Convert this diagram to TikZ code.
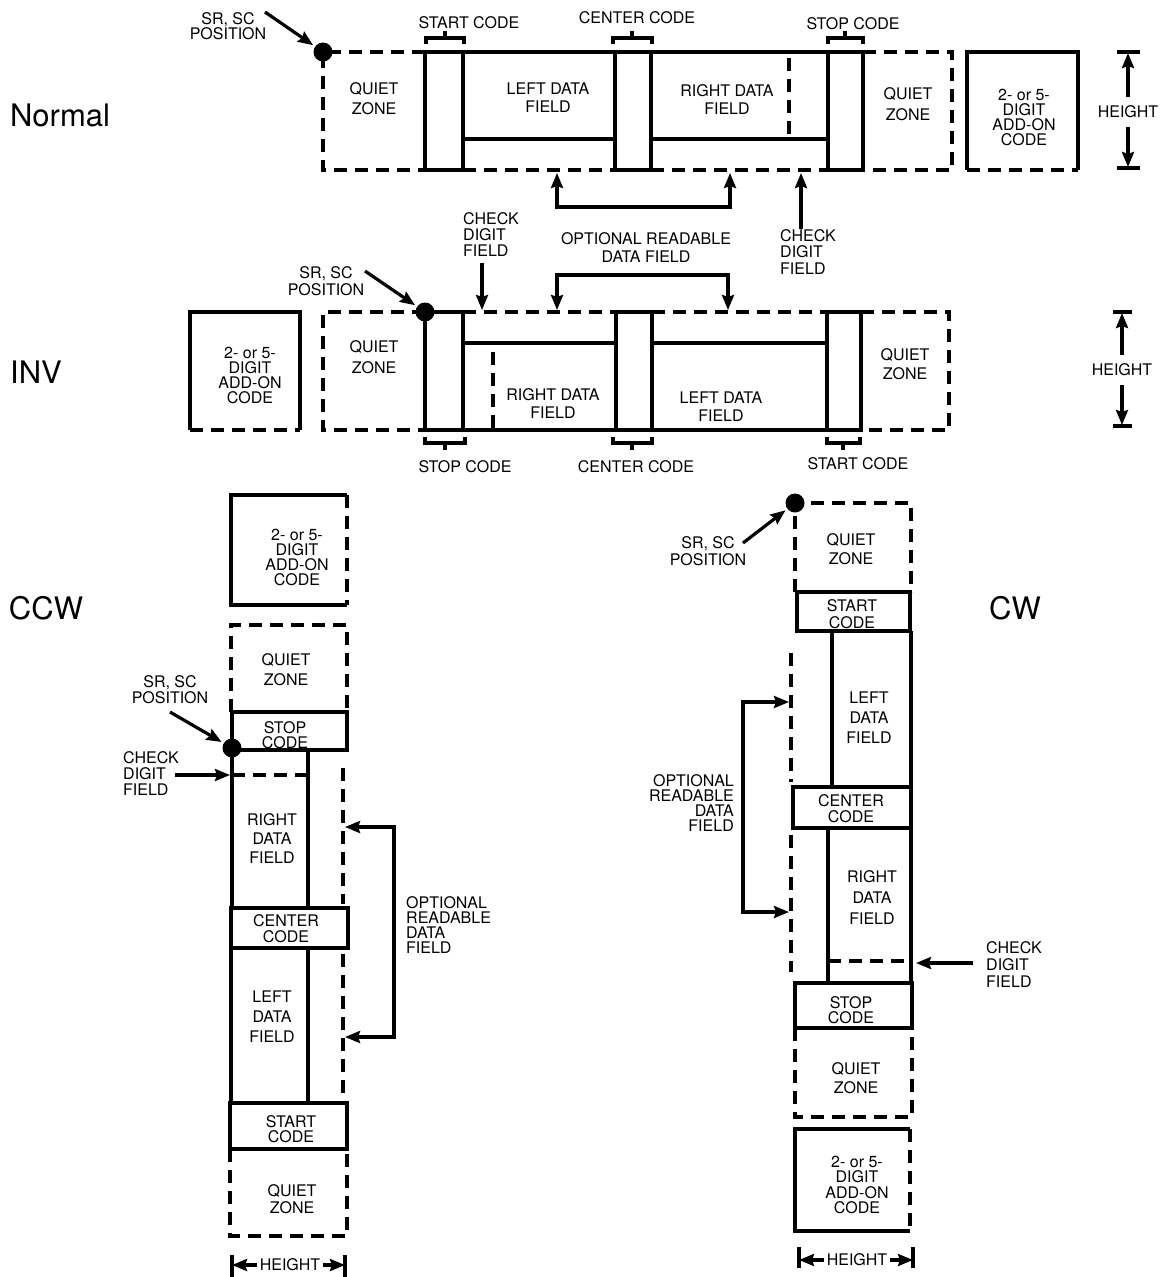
\documentclass[tikz,border=0pt]{standalone}
\usepackage{fontspec}
\setmainfont{TeX Gyre Heros}
\usetikzlibrary{arrows.meta}
\begin{document}
\begin{tikzpicture}[
        x=1pt, y=-1pt,
        >={Stealth[length=15pt,width=12pt,inset=2pt]},
        lbl/.style={
            inner sep=0pt,
            align=center,
            font=\fontsize{16}{#1}\selectfont
        },
        lbl/.default=17,
        title/.style={
            inner sep=0pt,
            font=\fontsize{31}{36}\selectfont
        },
        bar/.style={
            line width=3.4pt
        },
        dsh/.style={
            line width=3.4pt,
            dash pattern=on 13pt off 8pt
        },
        arrow/.style={
            ->,
            line width=3.2pt
        }
    ]

    \useasboundingbox (0,0) rectangle (1168,1277);

    % Normal
    \node[title] (n_title) at (60,115) {Normal};

    \draw[dsh] (425,52) -- (323,52) -- (323,170) -- (425,170);
    \draw[bar] (425,52) rectangle (463,170);
    \draw[bar] (615,52) rectangle (651,170);
    \draw[bar] (828,52) rectangle (863,170);
    \draw[bar] (463,52) -- (615,52) (651,52) -- (828,52);
    \draw[bar] (463,139) -- (615,139) (651,139) -- (828,139);
    \draw[dsh] (463,170) -- (615,170) (651,170) -- (828,170);
    \draw[dsh] (789,58) -- (789,135);
    \draw[dsh] (863,52) -- (952,52) -- (952,170) -- (863,170);
    \draw[bar] (967,170) -- (967,52) -- (1078,52) -- (1078,170);
    \draw[dsh] (967,170) -- (1078,170);

    \draw[bar] (426,44) -- (426,38) -- (464,38) -- (464,44) (445,38) -- (445,31);
    \draw[bar] (613,44) -- (613,38) -- (652,38) -- (652,44) (632,38) -- (632,31);
    \draw[bar] (828,44) -- (828,38) -- (863,38) -- (863,44) (845,38) -- (845,31);

    \node[lbl] (n_start) at (469,23) {START CODE};
    \node[lbl] (n_center) at (637,18) {CENTER CODE};
    \node[lbl] (n_stop) at (853,24) {STOP CODE};
    \node[lbl=20] (n_quiet_l) at (374,99) {QUIET\\ZONE};
    \node[lbl=18] (n_left) at (548,98) {LEFT DATA\\FIELD};
    \node[lbl=18] (n_right) at (727,100) {RIGHT DATA\\FIELD};
    \node[lbl=21] (n_quiet_r) at (908,104) {QUIET\\ZONE};
    \node[lbl=15] (n_addon) at (1024,117) {2- or 5-\\DIGIT\\ADD-ON\\CODE};
    \node[lbl] (n_height) at (1128,112) {HEIGHT};
    \node[lbl=15] (n_sr) at (228,26) {SR, SC\\POSITION};
    \node[lbl=16.5, align=left, anchor=west] (n_chk) at (780,252) {CHECK\\DIGIT\\FIELD};
    \node[lbl=18] (n_opt) at (646,248) {OPTIONAL READABLE\\DATA FIELD};

    \coordinate (n_dot) at (323,52);
    \coordinate (n_sr_from) at (265,12);
    \coordinate (n_chk_to) at (801,173);
    \coordinate (n_h_top) at (1128,53);
    \coordinate (n_h_bot) at (1128,167);
    \fill (n_dot) circle (9.5pt);
    \draw[arrow, shorten >=12pt] (n_sr_from) -- (n_dot);
    \draw[arrow] (n_chk.north -| n_chk_to) -- (n_chk_to);
    \draw[arrow, <->] (557,173) -- (557,207) -- (730,207) -- (730,173);
    \draw[bar] (1117,52) -- (1140,52) (1117,168) -- (1140,168);
    \draw[arrow, shorten <=9pt] (n_height.north) -- (n_h_top);
    \draw[arrow, shorten <=9pt] (n_height.south) -- (n_h_bot);

    % INV
    \node[title] (i_title) at (36,372) {INV};

    \draw[bar] (190,430) -- (190,312) -- (300,312) -- (300,430);
    \draw[dsh] (190,430) -- (300,430);
    \draw[dsh] (425,312) -- (323,312) -- (323,430) -- (425,430);
    \draw[bar] (425,312) rectangle (463,430);
    \draw[bar] (616,312) rectangle (652,430);
    \draw[bar] (827,312) rectangle (861,430);
    \draw[dsh] (463,312) -- (616,312) (652,312) -- (827,312);
    \draw[bar] (463,343) -- (616,343) (652,343) -- (827,343);
    \draw[bar] (463,430) -- (616,430) (652,430) -- (827,430);
    \draw[dsh] (493,352) -- (493,428);
    \draw[dsh] (861,312) -- (949,312) -- (949,430) -- (861,430);

    \draw[bar] (425,437) -- (425,443) -- (465,443) -- (465,437) (445,443) -- (445,450);
    \draw[bar] (613,437) -- (613,443) -- (652,443) -- (652,437) (632,443) -- (632,450);
    \draw[bar] (827,437) -- (827,443) -- (860,443) -- (860,437) (843,443) -- (843,450);

    \node[lbl=15] (i_addon) at (250,375) {2- or 5-\\DIGIT\\ADD-ON\\CODE};
    \node[lbl=21] (i_quiet_l) at (374,357) {QUIET\\ZONE};
    \node[lbl=18] (i_right) at (553,404) {RIGHT DATA\\FIELD};
    \node[lbl=18] (i_left) at (721,407) {LEFT DATA\\FIELD};
    \node[lbl=19] (i_quiet_r) at (905,364) {QUIET\\ZONE};
    \node[lbl] (i_stop) at (465,467) {STOP CODE};
    \node[lbl] (i_center) at (636,467) {CENTER CODE};
    \node[lbl] (i_start) at (858,464) {START CODE};
    \node[lbl] (i_height) at (1122,370) {HEIGHT};
    \node[lbl=17.5] (i_sr) at (326,281) {SR, SC\\POSITION};
    \node[lbl=16, align=left, anchor=west] (i_chk) at (463,235) {CHECK\\DIGIT\\FIELD};

    \coordinate (i_dot) at (425,312);
    \coordinate (i_sr_from) at (365,271);
    \coordinate (i_chk_from) at (482,263);
    \coordinate (i_chk_to) at (482,310);
    \coordinate (i_h_top) at (1122,313);
    \coordinate (i_h_bot) at (1122,425);
    \fill (i_dot) circle (9.5pt);
    \draw[arrow, shorten >=12pt] (i_sr_from) -- (i_dot);
    \draw[arrow] (i_chk_from) -- (i_chk_to);
    \draw[arrow, <->] (557,310) -- (557,275) -- (728,275) -- (728,310);
    \draw[bar] (1113,312) -- (1132,312) (1113,426) -- (1132,426);
    \draw[arrow, shorten <=9pt] (i_height.north) -- (i_h_top);
    \draw[arrow, shorten <=9pt] (i_height.south) -- (i_h_bot);

    % CCW
    \node[title] (l_title) at (46,608) {CCW};

    \draw[bar] (347,495) -- (231,495) -- (231,605) -- (347,605);
    \draw[dsh] (347,495) -- (347,605);
    \draw[dsh] (231,712) -- (231,625) -- (347,625) -- (347,712);
    \draw[bar] (232,712) rectangle (347,750);
    \draw[bar] (232,750) -- (232,908) (308,750) -- (308,908);
    \draw[dsh] (232,775) -- (308,775);
    \draw[bar] (231,908) rectangle (348,948);
    \draw[bar] (231,948) -- (231,1103) (308,948) -- (308,1103);
    \draw[bar] (230,1103) rectangle (347,1149);
    \draw[dsh] (230,1149) -- (230,1236) -- (347,1236) -- (347,1149);
    \draw[dsh] (343,768) -- (343,904) (343,954) -- (343,1095);

    \node[lbl=15] (l_addon) at (297,557) {2- or 5-\\DIGIT\\ADD-ON\\CODE};
    \node[lbl=20] (l_quiet_t) at (286,670) {QUIET\\ZONE};
    \node[lbl=15] (l_stop) at (285,735) {STOP\\CODE};
    \node[lbl=19] (l_right) at (272,839) {RIGHT\\DATA\\FIELD};
    \node[lbl=16] (l_center) at (286,929) {CENTER\\CODE};
    \node[lbl=20] (l_left) at (272,1017) {LEFT\\DATA\\FIELD};
    \node[lbl=15] (l_start) at (291,1129) {START\\CODE};
    \node[lbl=17.5] (l_quiet_b) at (292,1199) {QUIET\\ZONE};
    \node[lbl=16] (l_sr) at (170,690) {SR, SC\\POSITION};
    \node[lbl=16, align=left, anchor=west] (l_chk) at (123,774) {CHECK\\DIGIT\\FIELD};
    \node[lbl=15, align=left, anchor=west] (l_opt) at (406,925) {OPTIONAL\\READABLE\\DATA\\FIELD};
    \node[lbl] (l_height) at (290,1265) {HEIGHT};

    \coordinate (l_dot) at (232,748);
    \coordinate (l_sr_from) at (170,712);
    \coordinate (l_chk_from) at (175,775);
    \coordinate (l_chk_to) at (230,775);
    \coordinate (l_h_left) at (232,1265);
    \coordinate (l_h_right) at (345,1265);
    \fill (l_dot) circle (9.5pt);
    \draw[arrow, shorten >=12pt] (l_sr_from) -- (l_dot);
    \draw[arrow] (l_chk_from) -- (l_chk_to);
    \draw[arrow, <->] (345,827) -- (394,827) -- (394,1037) -- (345,1037);
    \draw[bar] (232,1255) -- (232,1277) (345,1255) -- (345,1277);
    \draw[arrow, shorten <=3pt] (l_height.west) -- (l_h_left);
    \draw[arrow, shorten <=3pt] (l_height.east) -- (l_h_right);

    % CW
    \node[title] (r_title) at (1015,608) {CW};

    \draw[dsh] (795,592) -- (795,503) -- (911,503) -- (911,592);
    \draw[bar] (797,592) rectangle (910,631);
    \draw[bar] (832,631) -- (832,787) (911,631) -- (911,787);
    \draw[bar] (793,787) rectangle (911,828);
    \draw[bar] (828,828) -- (828,983) (911,828) -- (911,983);
    \draw[dsh] (828,961) -- (911,961);
    \draw[bar] (795,983) rectangle (912,1028);
    \draw[dsh] (795,1028) -- (795,1117) -- (912,1117) -- (912,1028);
    \draw[bar] (910,1129) -- (795,1129) -- (795,1231) -- (910,1231);
    \draw[dsh] (910,1129) -- (910,1231);
    \draw[dsh] (791,653) -- (791,782) (791,835) -- (791,972);

    \node[lbl=17] (r_sr) at (708,551) {SR, SC\\POSITION};
    \node[lbl=19] (r_quiet_t) at (851,549) {QUIET\\ZONE};
    \node[lbl=16.5] (r_start) at (852,614) {START\\CODE};
    \node[lbl=20] (r_left) at (869,718) {LEFT\\DATA\\FIELD};
    \node[lbl=16] (r_center) at (851,809) {CENTER\\CODE};
    \node[lbl=21] (r_right) at (872,898) {RIGHT\\DATA\\FIELD};
    \node[lbl=15.3, align=right, anchor=east] (r_opt) at (734,803) {OPTIONAL\\READABLE\\DATA\\FIELD};
    \node[lbl=17, align=left, anchor=west] (r_chk) at (986,965) {CHECK\\DIGIT\\FIELD};
    \node[lbl=15] (r_stop) at (851,1010) {STOP\\CODE};
    \node[lbl=19] (r_quiet_b) at (856,1078) {QUIET\\ZONE};
    \node[lbl=15.3] (r_addon) at (857,1185) {2- or 5-\\DIGIT\\ADD-ON\\CODE};
    \node[lbl] (r_height) at (857,1260) {HEIGHT};

    \coordinate (r_dot) at (795,503);
    \coordinate (r_sr_from) at (743,543);
    \coordinate (r_chk_from) at (973,963);
    \coordinate (r_chk_to) at (916,963);
    \coordinate (r_h_left) at (799,1260);
    \coordinate (r_h_right) at (913,1260);
    \fill (r_dot) circle (9.5pt);
    \draw[arrow, shorten >=12pt] (r_sr_from) -- (r_dot);
    \draw[arrow] (r_chk_from) -- (r_chk_to);
    \draw[arrow, <->] (789,702) -- (743,702) -- (743,912) -- (789,912);
    \draw[bar] (799,1247) -- (799,1268) (913,1247) -- (913,1268);
    \draw[arrow, shorten <=3pt] (r_height.west) -- (r_h_left);
    \draw[arrow, shorten <=3pt] (r_height.east) -- (r_h_right);

\end{tikzpicture}
\end{document}
